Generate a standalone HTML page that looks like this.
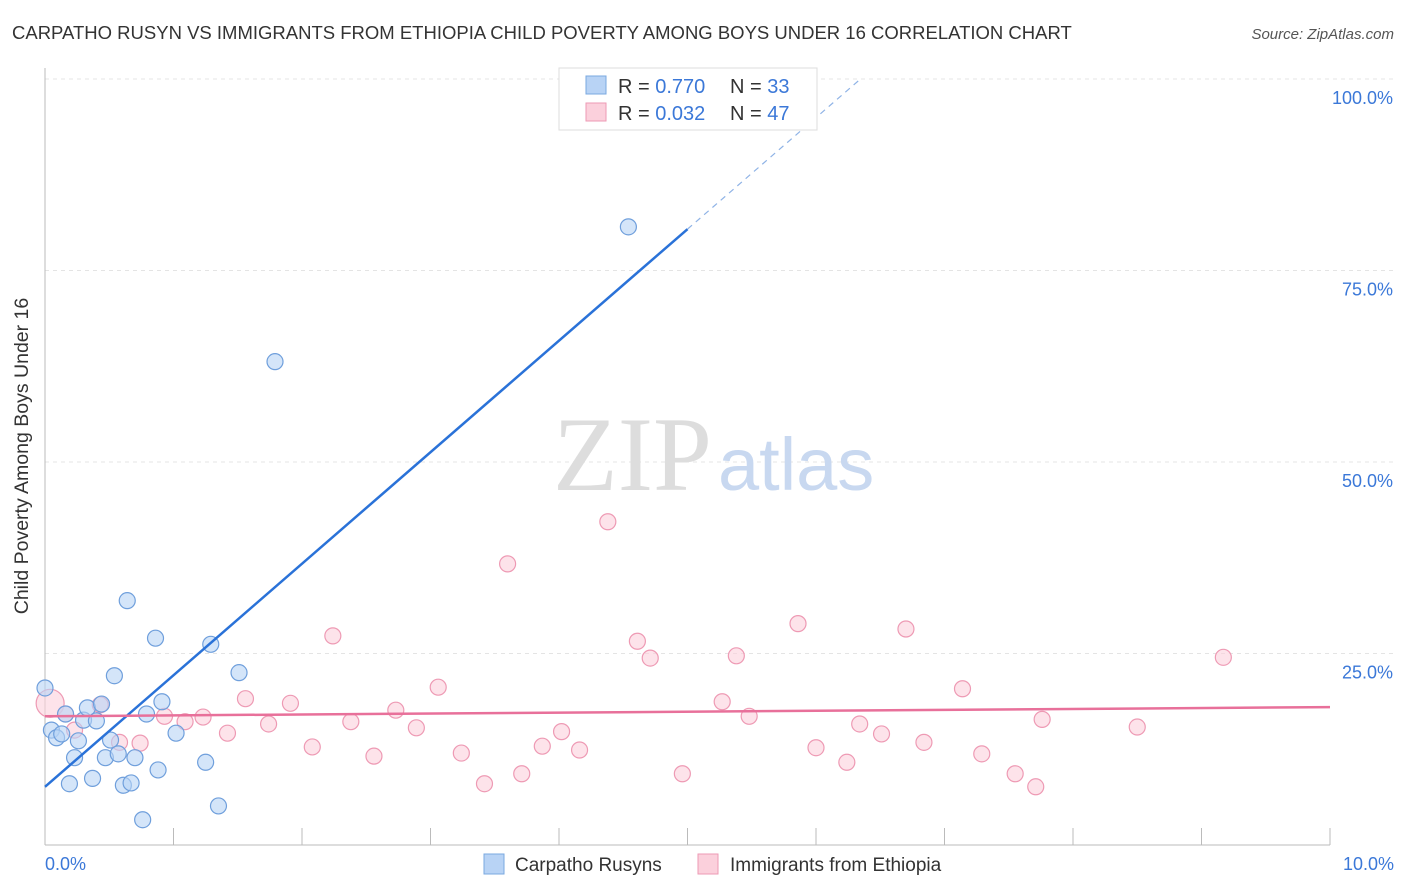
<!DOCTYPE html>
<html><head><meta charset="utf-8">
<style>
body{margin:0;background:#fff;font-family:"Liberation Sans",sans-serif;}
svg{display:block}
</style></head>
<body>
<svg width="1406" height="892" xmlns="http://www.w3.org/2000/svg">
<text x="12" y="39" font-size="18.5" fill="#333">CARPATHO RUSYN VS IMMIGRANTS FROM ETHIOPIA CHILD POVERTY AMONG BOYS UNDER 16 CORRELATION CHART</text>
<text x="1394" y="39" font-size="15" fill="#555" font-style="italic" text-anchor="end">Source: ZipAtlas.com</text>
<g id="grid"></g>
<text x="712" y="490" font-size="106" fill="#ddd" font-family="Liberation Serif,serif" text-anchor="end">ZIP</text>
<text x="718" y="490" font-size="74" fill="#c8d8f0">atlas</text>
<g id="marks"></g>
<text x="28" y="456" font-size="19.5" fill="#333" text-anchor="middle" transform="rotate(-90 28 456)">Child Poverty Among Boys Under 16</text>
<g>
<rect x="559" y="68" width="258" height="62" fill="#fff" stroke="#ddd"/>
<rect x="586" y="76" width="20" height="18" fill="#b8d3f5" stroke="#7aa8e0"/>
<text x="618" y="93" font-size="20" fill="#333">R = <tspan fill="#3b78d8">0.770</tspan></text>
<text x="730" y="93" font-size="20" fill="#333">N = <tspan fill="#3b78d8">33</tspan></text>
<rect x="586" y="103" width="20" height="18" fill="#fbd0dc" stroke="#ee9ab4"/>
<text x="618" y="120" font-size="20" fill="#333">R = <tspan fill="#3b78d8">0.032</tspan></text>
<text x="730" y="120" font-size="20" fill="#333">N = <tspan fill="#3b78d8">47</tspan></text>
</g>
<g>
<rect x="484" y="854" width="20" height="20" fill="#b8d3f5" stroke="#7aa8e0"/>
<text x="515" y="871" font-size="19" fill="#333">Carpatho Rusyns</text>
<rect x="698" y="854" width="20" height="20" fill="#fbd0dc" stroke="#ee9ab4"/>
<text x="730" y="871" font-size="19" fill="#333">Immigrants from Ethiopia</text>
</g>
</svg>
<script>
const blueX=[0.00,0.05,0.09,0.13,0.16,0.23,0.19,0.26,0.30,0.33,0.37,0.40,0.44,0.47,0.51,0.54,0.57,0.61,0.64,0.67,0.70,0.76,0.79,0.86,0.88,0.91,1.02,1.25,1.29,1.35,1.51,1.79,4.54];
const blueY=[20.5,15.0,14.0,14.5,17.1,11.4,8.0,13.6,16.3,17.9,8.7,16.2,18.4,11.4,13.7,22.1,11.9,7.8,31.9,8.1,11.4,3.3,17.1,27.0,9.8,18.7,14.6,10.8,26.2,5.1,22.5,63.1,80.7];
const pinkX=[0.04,0.16,0.23,0.43,0.58,0.74,0.93,1.09,1.23,1.42,1.56,1.74,1.91,2.08,2.24,2.38,2.56,2.73,2.89,3.06,3.24,3.42,3.60,3.71,3.87,4.02,4.16,4.38,4.61,4.71,4.96,5.27,5.38,5.48,5.86,6.00,6.24,6.34,6.51,6.70,6.84,7.14,7.29,7.55,7.71,7.76,8.50,9.17];
const pinkY=[18.5,17.1,15.0,18.3,13.4,13.3,16.8,16.1,16.7,14.6,19.1,15.8,18.5,12.8,27.3,16.1,11.6,17.6,15.3,20.6,12.0,8.0,36.7,9.3,12.9,14.8,12.4,42.2,26.6,24.4,9.3,18.7,24.7,16.8,28.9,12.7,10.8,15.8,14.5,28.2,13.4,20.4,11.9,9.3,7.6,16.4,15.4,24.5];
const blueTrend=[7.6,14.56];
const pinkTrend=[16.8,0.12];
const yTicks=[25,50,75,100];
const yTickLabels=["25.0%","50.0%","75.0%","100.0%"];
const xTicks=[0,1,2,3,4,5,6,7,8,9,10];
const NS="http://www.w3.org/2000/svg";
const X=v=>45+v*128.5, Y=v=>845-v*7.66;
function mk(t,a,p){const e=document.createElementNS(NS,t);for(const k in a)e.setAttribute(k,a[k]);p.appendChild(e);return e;}
const g=document.getElementById('grid'), m=document.getElementById('marks');
yTicks.forEach((t,i)=>{
 const l=mk('line',{x1:45,x2:1394,y1:Y(t),y2:Y(t),stroke:'#e4e4e4','stroke-dasharray':'4,4'},g);
 
 
 const tx=mk('text',{x:1393,y:Y(t)+25,'font-size':18,fill:'#3b78d8','text-anchor':'end'},g);
 tx.textContent=yTickLabels[i];
 
 
});
const ax=mk('line',{x1:45,x2:1330,y1:845,y2:845,stroke:'#bbb'},g);


const ay=mk('line',{x1:45,x2:45,y1:68,y2:845,stroke:'#bbb'},g);


xTicks.forEach(t=>{
 const l=mk('line',{x1:X(t),x2:X(t),y1:828,y2:845,stroke:'#bbb'},g);
 
 
});
const xl0=mk('text',{x:45,y:870,'font-size':18,fill:'#3b78d8'},g);xl0.textContent='0.0%';


const xl1=mk('text',{x:1394,y:870,'font-size':18,fill:'#3b78d8','text-anchor':'end'},g);xl1.textContent='10.0%';


pinkX.forEach((x,i)=>{
 const c=mk('circle',{cx:X(x),cy:Y(pinkY[i]),r:i===0?14:8,fill:'#fbd0dc','fill-opacity':0.6,stroke:'#ee9ab4','stroke-width':1.2},m);
 
 
});
blueX.forEach((x,i)=>{
 const c=mk('circle',{cx:X(x),cy:Y(blueY[i]),r:8,fill:'#b8d3f5','fill-opacity':0.6,stroke:'#6f9fdc','stroke-width':1.2},m);
 
 
});
const bEnd=5.0, bTop=(100-blueTrend[0])/blueTrend[1];
const bl=mk('line',{x1:X(0),y1:Y(blueTrend[0]),x2:X(bEnd),y2:Y(blueTrend[0]+blueTrend[1]*bEnd),stroke:'#2a72d8','stroke-width':2.5},m);


const bd=mk('line',{x1:X(bEnd),y1:Y(blueTrend[0]+blueTrend[1]*bEnd),x2:X(bTop),y2:Y(100),stroke:'#8fb3e6','stroke-width':1.2,'stroke-dasharray':'6,5'},m);


const pl=mk('line',{x1:X(0),y1:Y(pinkTrend[0]),x2:X(10),y2:Y(pinkTrend[0]+pinkTrend[1]*10),stroke:'#e8709a','stroke-width':2.5},m);


</script>
</body></html>
